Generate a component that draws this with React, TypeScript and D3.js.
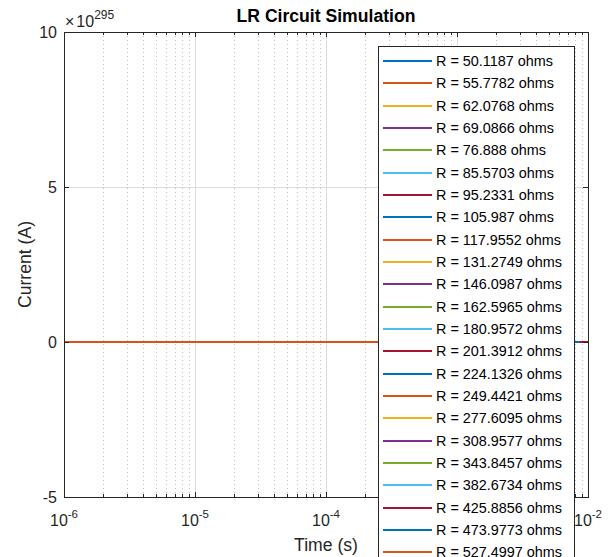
import React from 'react';
import * as d3 from 'd3';

// resistances in the legend (ohms)
const resistances = [
  50.1187, 55.7782, 62.0768, 69.0866, 76.888, 85.5703, 95.2331, 105.987,
  117.9552, 131.2749, 146.0987, 162.5965, 180.9572, 201.3912, 224.1326,
  249.4421, 277.6095, 308.9577, 343.8457, 382.6734, 425.8856, 473.9773, 527.4997,
];
const endTimes = [
  0.0858, 0.0771, 0.0693, 0.0622, 0.0559, 0.0503, 0.0452, 0.0406,
  0.0365, 0.0328, 0.0294, 0.0264, 0.0238, 0.0214, 0.0192,
  0.0172, 0.0155, 0.0139, 0.0125, 0.0112, 0.0101, 0.0086, 0.0078,
];
// current on the plotted scale (x 1e295) is zero for every run
const startTime = 1e-6;
const currentValues = [0, 0];

const xTicks = [1e-6, 1e-5, 1e-4, 1e-3, 1e-2];
const xTickExps = ['-6', '-5', '-4', '-3', '-2'];
const yTicks = [-5, 0, 5, 10];

const colors = ['#0072BD', '#D95319', '#EDB120', '#7E2F8E', '#77AC30', '#4DBEEE', '#A2142F'];

const W = 613;
const H = 557;
const left = 64, right = 588, top = 32, bottom = 497;
const font = 'Arial, "Liberation Sans", Helvetica, sans-serif';
const ink = '#262626';

export default function App() {
  const x = d3.scaleLog().domain([1e-6, 1e-2]).range([left, right]);
  const y = d3.scaleLinear().domain([-5, 10]).range([bottom, top]);

  const minor: number[] = [];
  for (let e = -6; e < -2; e++) {
    for (let m = 2; m <= 9; m++) minor.push(m * Math.pow(10, e));
  }

  const line = d3.line<[number, number]>().x(d => x(d[0])).y(d => y(d[1]));

  const legX = 378, legY = 46, legW = 196, rowH = 22.33;
  // the 10^-3 label sits under the legend and is not shown
  const hiddenLabel = 1e-3;

  return (
    <svg width={W} height={H} style={{ position: 'absolute', left: 0, top: 0, background: '#fff' }} fontFamily={font}>
      <defs>
        <clipPath id="plot">
          <rect x={left} y={top} width={right - left} height={bottom - top} />
        </clipPath>
      </defs>

      {/* grid */}
      {minor.map((v, i) => (
        <line key={'mg' + i} x1={Math.round(x(v)) + 0.5} x2={Math.round(x(v)) + 0.5} y1={top} y2={bottom}
          stroke="#c4c4c4" strokeWidth={1} strokeDasharray="1,3" />
      ))}
      {xTicks.slice(1, -1).map((v, i) => (
        <line key={'xg' + i} x1={Math.round(x(v)) + 0.5} x2={Math.round(x(v)) + 0.5} y1={top} y2={bottom} stroke="#dcdcdc" strokeWidth={1} />
      ))}
      {yTicks.slice(1, -1).map((v, i) => (
        <line key={'yg' + i} x1={left} x2={right} y1={y(v) + 0.5} y2={y(v) + 0.5} stroke="#dcdcdc" strokeWidth={1} />
      ))}

      {/* data lines */}
      <g clipPath="url(#plot)">
        {resistances.map((r, i) => {
          const pts: [number, number][] = [[startTime, currentValues[0]], [endTimes[i], currentValues[1]]];
          return <path key={'l' + i} d={line(pts) || ''} fill="none" stroke={colors[i % colors.length]} strokeWidth={2} />;
        })}
      </g>

      {/* ticks */}
      {minor.map((v, i) => {
        const px = Math.round(x(v)) + 0.5;
        return (
          <g key={'mt' + i}>
            <line x1={px} x2={px} y1={bottom} y2={bottom - 3} stroke={ink} />
            <line x1={px} x2={px} y1={top} y2={top + 3} stroke={ink} />
          </g>
        );
      })}
      {xTicks.map((v, i) => {
        const px = Math.round(x(v)) + 0.5;
        return (
          <g key={'xt' + i}>
            <line x1={px} x2={px} y1={bottom} y2={bottom - 5} stroke={ink} />
            <line x1={px} x2={px} y1={top} y2={top + 5} stroke={ink} />
            {v !== hiddenLabel && (
              <text x={x(v)} y={526} fontSize={16} fill={ink} textAnchor="middle">
                <tspan>10</tspan>
                <tspan fontSize={11.5} dy={-8}>{xTickExps[i]}</tspan>
              </text>
            )}
          </g>
        );
      })}
      {yTicks.map((v, i) => (
        <g key={'yt' + i}>
          <line x1={left} x2={left + 5} y1={y(v) + 0.5} y2={y(v) + 0.5} stroke={ink} />
          <line x1={right} x2={right - 5} y1={y(v) + 0.5} y2={y(v) + 0.5} stroke={ink} />
          <text x={57} y={y(v) + 6} fontSize={16} fill={ink} textAnchor="end">{v}</text>
        </g>
      ))}

      {/* box */}
      <rect x={left + 0.5} y={top + 0.5} width={right - left} height={bottom - top} fill="none" stroke={ink} strokeWidth={1} />

      {/* exponent */}
      <text x={65} y={27} fontSize={16} fill={ink}>
        <tspan>×</tspan>
        <tspan dx={2}>10</tspan>
        <tspan fontSize={12} dy={-8}>295</tspan>
      </text>

      {/* title and labels */}
      <text x={326} y={22} fontSize={17.6} fontWeight="bold" fill="#000" textAnchor="middle">LR Circuit Simulation</text>
      <text x={326} y={551} fontSize={17.6} fill={ink} textAnchor="middle">Time (s)</text>
      <text transform={`translate(31,${(top + bottom) / 2}) rotate(-90)`} fontSize={17.6} fill={ink} textAnchor="middle">Current (A)</text>

      {/* legend */}
      <rect x={legX + 0.5} y={legY + 0.5} width={legW} height={resistances.length * rowH + 12} fill="#fff" stroke={ink} strokeWidth={1} />
      {resistances.map((r, i) => {
        const cy = Math.round(61 + i * rowH);
        return (
          <g key={'lg' + i}>
            <line x1={383} x2={432} y1={cy} y2={cy} stroke={colors[i % colors.length]} strokeWidth={2} />
            <text x={436} y={cy + 5} fontSize={14.4} fill="#000">{`R = ${r} ohms`}</text>
          </g>
        );
      })}
    </svg>
  );
}
